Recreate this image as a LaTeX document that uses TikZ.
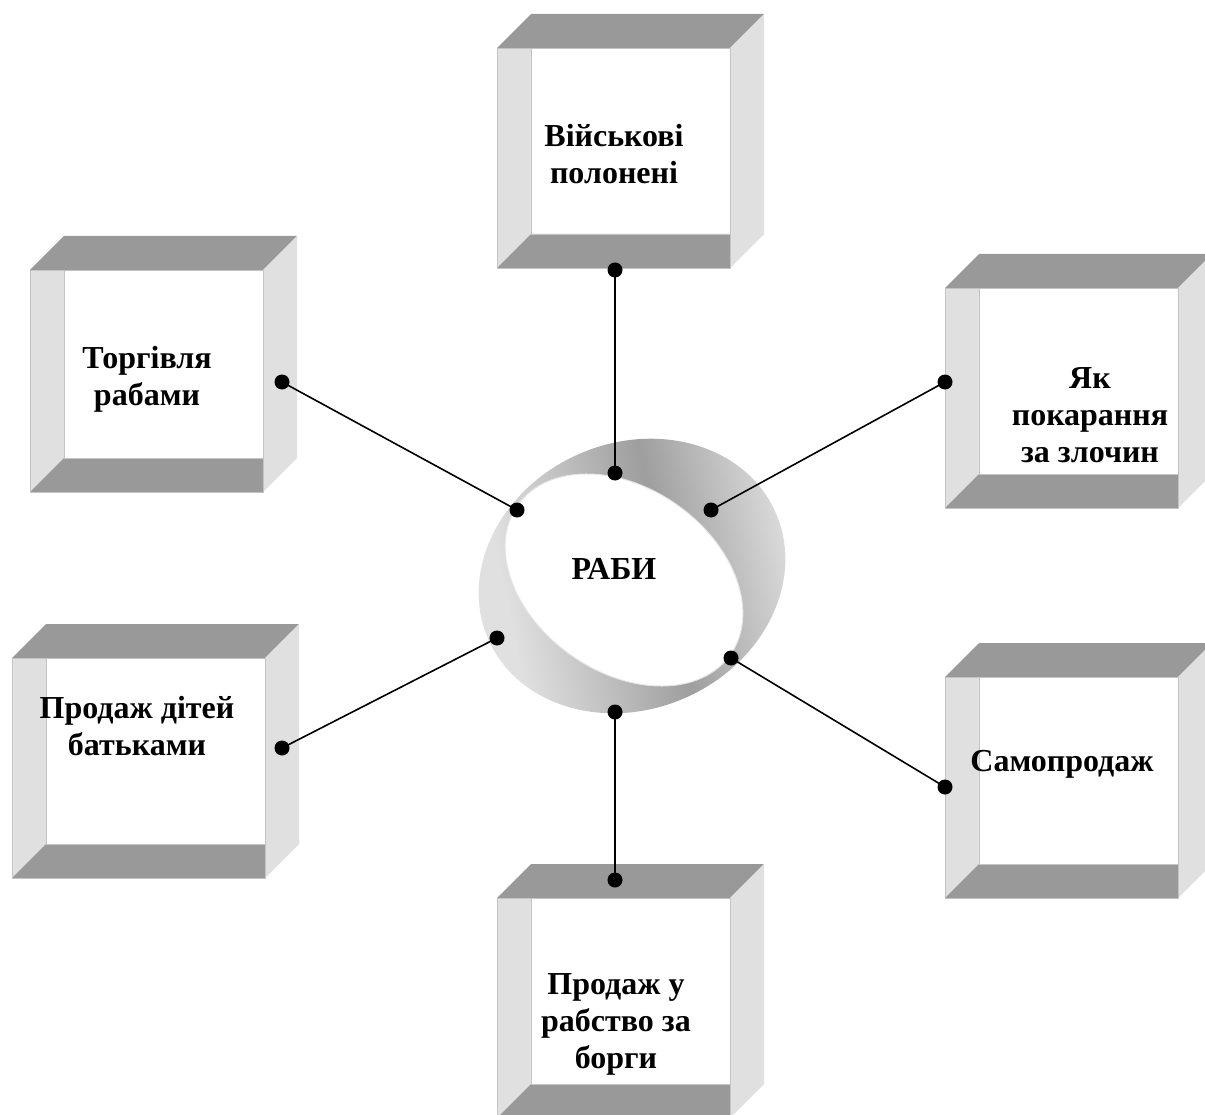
\documentclass[tikz,border=0pt]{standalone}
\usepackage{fontspec}
\setmainfont{Liberation Serif}
\definecolor{cubedark}{HTML}{999999}
\definecolor{cubelight}{HTML}{E0E0E0}
\definecolor{cubeedge}{HTML}{C4C4C4}
\definecolor{ringlight}{HTML}{E0E0E0}
\definecolor{ringmid}{HTML}{C2C2C2}
\definecolor{ringdark}{HTML}{9E9E9E}
\pgfdeclarehorizontalshading{ringshade}{100bp}{color(0bp)=(ringlight); color(25bp)=(ringlight); color(31bp)=(ringlight); color(42bp)=(ringmid); color(55bp)=(ringdark); color(66bp)=(ringmid); color(75bp)=(ringlight); color(100bp)=(ringlight)}
\tikzset{
  cubedarkface/.style={fill=cubedark},
  cubelightface/.style={fill=cubelight},
  cubeline/.style={draw=cubeedge, line width=0.8pt},
  lbl/.style={font=\fontsize{32}{37}\selectfont\bfseries, align=center, inner sep=0pt},
  link/.style={line width=1.6pt, draw=black},
  joint/.style={fill=black}
}
% #1 x0, #2 front top y, #3 x1, #4 front bottom y, #5 depth
\newcommand\opencube[5]{%
  \fill[cubelightface] (#1,#2) rectangle (#1+#5,#4);
  \fill[cubedarkface] (#1,#4) -- (#1+#5,#4-#5) -- (#3,#4-#5) -- (#3,#4) -- cycle;
  \fill[cubedarkface] (#1,#2) -- (#1+#5,#2-#5) -- (#3+#5,#2-#5) -- (#3,#2) -- cycle;
  \fill[cubelightface] (#3,#2) -- (#3+#5,#2-#5) -- (#3+#5,#4-#5) -- (#3,#4) -- cycle;
  \draw[cubeline] (#1,#2) rectangle (#3,#4);
  \draw[cubeline] (#1+#5,#2) -- (#1+#5,#4-#5) -- (#3,#4-#5);
}
\begin{document}
\begin{tikzpicture}[x=1pt,y=-1pt]
\useasboundingbox[fill=white] (0,0) rectangle (1205,1115);

% boxes
\opencube{497}{48}{730}{268}{34}
\opencube{30}{270}{263}{492}{34}
\opencube{945}{288}{1178}{508}{34}
\opencube{12}{658}{265}{878}{34}
\opencube{945}{677}{1178}{898}{34}
\opencube{497}{898}{730}{1118}{34}

% ring
\shade[shading=ringshade, shading angle=12, rotate around={24:(632,576)}] (632,576) ellipse [x radius=157pt, y radius=133pt];
\fill[white, rotate around={-35:(624,580)}] (624,580) ellipse [x radius=130pt, y radius=92pt];
\draw[white!80!gray, line width=1pt, rotate around={-35:(624,580)}] (624,580) ellipse [x radius=130pt, y radius=92pt];

% labels
\node[lbl] (raby) at (614,569) {РАБИ};
\node[lbl] (tv) at (614,154) {Військові\\полонені};
\node[lbl] (tt) at (147,379) {Торгівля\\рабами};
\node[lbl] (tk) at (1090,415) {Як\\покарання\\за злочин};
\node[lbl] (tp) at (137,726) {Продаж дітей\\батьками};
\node[lbl] (ts) at (1062,764) {Самопродаж};
\node[lbl] (tb) at (616,1024) {Продаж у\\рабство за\\борги};

% joints
\coordinate (a1) at (615,270);  \coordinate (b1) at (615,473);
\coordinate (a2) at (282,382);  \coordinate (b2) at (517,510);
\coordinate (a3) at (945,382);  \coordinate (b3) at (711,510);
\coordinate (a4) at (282,748);  \coordinate (b4) at (497,638);
\coordinate (a5) at (945,787);  \coordinate (b5) at (731,658);
\coordinate (a6) at (615,880);  \coordinate (b6) at (615,712);

\foreach \i in {1,...,6}{
  \draw[link] (a\i) -- (b\i);
  \fill[joint] (a\i) circle[radius=7.5pt];
  \fill[joint] (b\i) circle[radius=7.5pt];
}
\end{tikzpicture}
\end{document}
